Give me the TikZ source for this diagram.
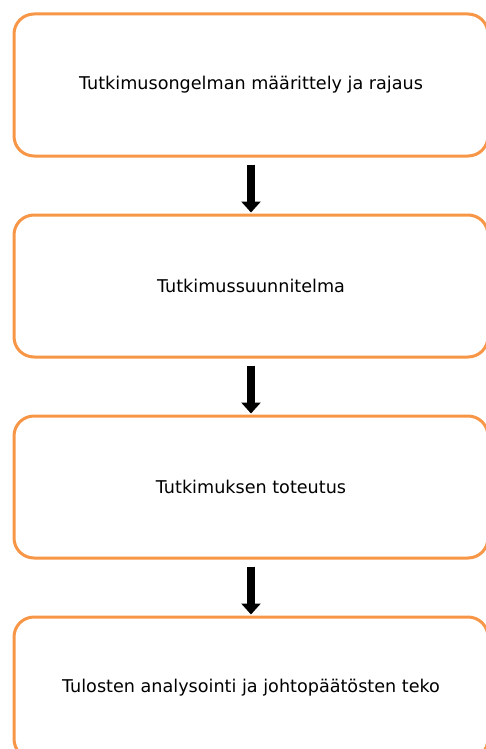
\documentclass[tikz,border=0pt]{standalone}
\usepackage{fontspec}
\setmainfont{DejaVu Sans}
\usetikzlibrary{positioning,arrows.meta}
\definecolor{boxorange}{RGB}{247,150,70}

\begin{document}
\begin{tikzpicture}[x=1pt,y=1pt,node distance=56pt]
        \tikzstyle{roundrect} = [rectangle, rounded corners=20pt, minimum width=474pt, minimum height=142pt, text centered, draw=boxorange, line width=3pt, font=\fontsize{17.6}{20}\selectfont]
        \tikzstyle{arrow} = [line width=8pt, -{Triangle[width=19pt,length=11pt]}, shorten <=7pt, shorten >=1pt]
        \useasboundingbox (0,0) rectangle (485,-749);
        \node (node1) [roundrect] at (251,-85) {Tutkimusongelman määrittely ja rajaus};
        \node (node2) [roundrect, below=of node1] {Tutkimussuunnitelma};
        \node (node3) [roundrect, below=of node2] {Tutkimuksen toteutus};
        \node (node4) [roundrect, below=of node3] {Tulosten analysointi ja johtopäätösten teko};

        \draw [arrow] (node1) -- (node2);
        \draw [arrow] (node2) -- (node3);
        \draw [arrow] (node3) -- (node4);
\end{tikzpicture}
\end{document}
